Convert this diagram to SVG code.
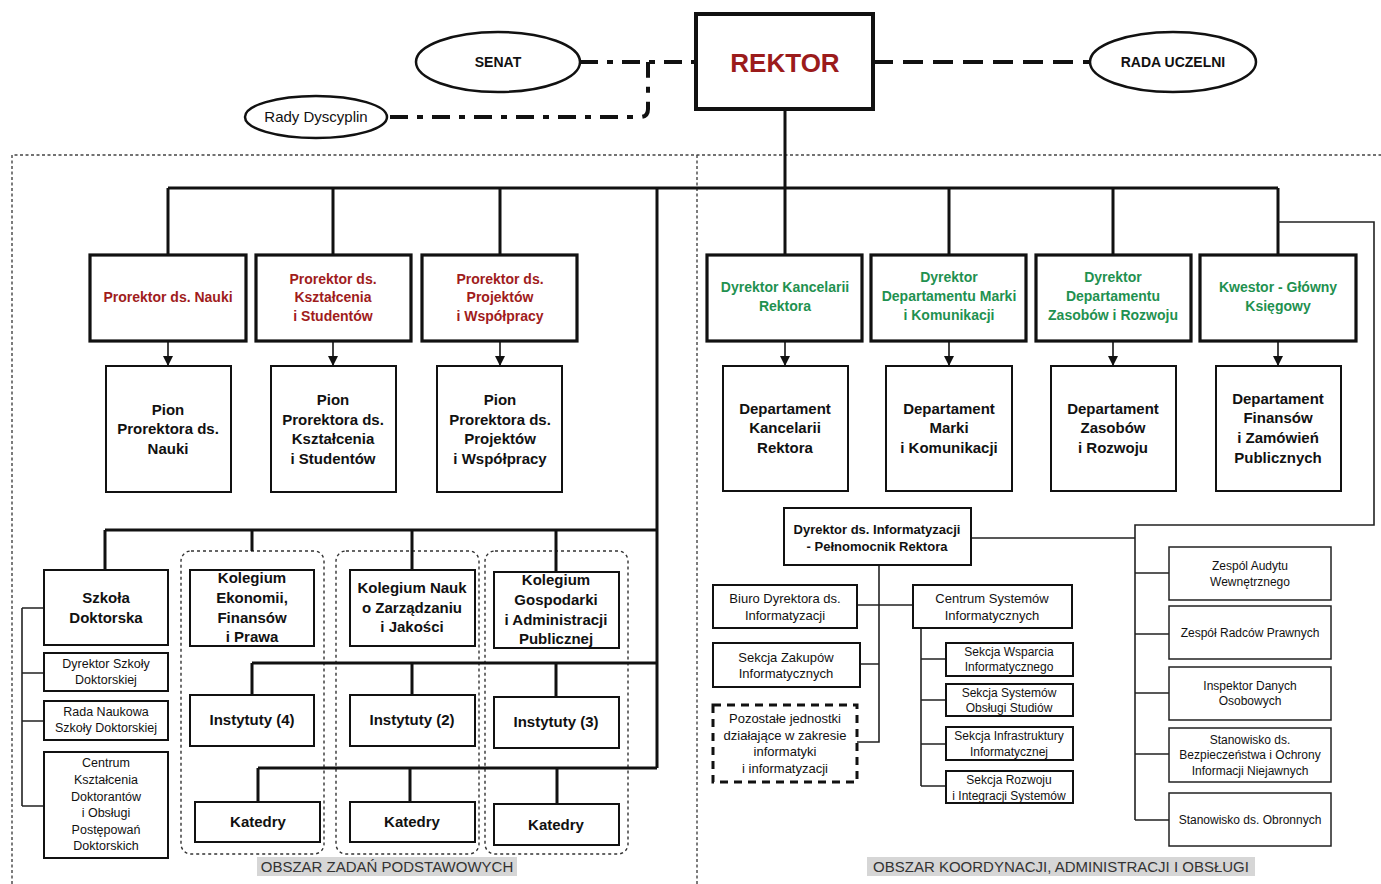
<svg xmlns="http://www.w3.org/2000/svg" width="1381" height="884" viewBox="0 0 1381 884">
<style>
text{font-family:"Liberation Sans",Arial,sans-serif;text-anchor:middle;fill:#111}
.b{font-weight:bold}
.red{fill:#a01c1c;font-weight:bold;font-size:14px}
.grn{fill:#1f9150;font-weight:bold;font-size:14px}
.thick{fill:#fff;stroke:#111;stroke-width:3.2}
.med{fill:#fff;stroke:#111;stroke-width:2}
.thin{fill:#fff;stroke:#222;stroke-width:1.5}
.ln{fill:none;stroke:#111;stroke-width:3}
.tl{fill:none;stroke:#222;stroke-width:1.6}
.area{fill:none;stroke:#444;stroke-width:1.4;stroke-dasharray:3,2.5}
.grp{fill:none;stroke:#333;stroke-width:1.4;stroke-dasharray:3,3}
.t15{font-size:15px;font-weight:bold}
.t14{font-size:15px;font-weight:bold}
.n13{font-size:13px}
.n12{font-size:12.5px}
.n11{font-size:12px}
.lab{font-size:15px;fill:#333}
</style>
<defs>
<marker id="arr" viewBox="0 0 10 10" refX="10" refY="5" markerWidth="10" markerHeight="10" markerUnits="userSpaceOnUse" orient="auto">
<path d="M0,0 L10,5 L0,10 z" fill="#111"/>
</marker>
</defs>
<rect width="1381" height="884" fill="#fff"/>

<g id="areas">
<path class="area" d="M12,884 V155 H1381"/>
<path class="area" d="M697,155 V884"/>
<rect x="257" y="857" width="260" height="19" fill="#d6d6d6"/>
<text class="lab" x="387" y="872">OBSZAR ZADAŃ PODSTAWOWYCH</text>
<rect x="867" y="857" width="388" height="19" fill="#d6d6d6"/>
<text class="lab" x="1061" y="872">OBSZAR KOORDYNACJI, ADMINISTRACJI I OBSŁUGI</text>
</g>

<g id="groups">
<rect class="grp" x="181" y="551" width="143" height="303" rx="10"/>
<rect class="grp" x="336" y="551" width="143" height="303" rx="10"/>
<rect class="grp" x="485" y="551" width="143" height="303" rx="10"/>
</g>

<g id="connectors">
<path d="M580,62 H696" fill="none" stroke="#111" stroke-width="4" stroke-dasharray="18,9,6,9"/>
<path d="M390,117 H640 Q648,117 648,109 V62" fill="none" stroke="#111" stroke-width="4" stroke-dasharray="18,9,6,9"/>
<path d="M873,62 H1090" fill="none" stroke="#111" stroke-width="4" stroke-dasharray="20,10"/>
<path class="ln" d="M785,109 V188 M168,188 H1278 M168,188 V255 M333,188 V255 M500,188 V255 M785,188 V255 M949,188 V255 M1113,188 V255 M1278,188 V255"/>
<path class="ln" d="M657,188 V768 M105,530 H657 M105,530 V570 M252,530 V551 M412,530 V570 M556,530 V572 M252,663 H657 M252,663 V695 M412,663 V695 M556,663 V697 M258,768 H657 M258,768 V802 M410,768 V802 M557,768 V804"/>
<g stroke="#111" stroke-width="1.6" marker-end="url(#arr)">
<path d="M168,341 V366"/><path d="M333,341 V366"/><path d="M500,341 V366"/>
<path d="M785,341 V366"/><path d="M949,341 V366"/><path d="M1113,341 V366"/><path d="M1278,341 V366"/>
</g>
<path class="tl" d="M1278,222 H1374 V525 H1135 V820 M971,538 H1135 M1135,573 H1169 M1135,634 H1169 M1135,693 H1169 M1135,754 H1169 M1135,820 H1169"/>
<path class="tl" d="M22,608 V806 M22,608 H44 M22,673 H44 M22,721 H44 M22,806 H44"/>
<path class="tl" d="M879,565 V742 H857 M857,605 H913 M860,664 H879 M921,628 V786 M921,659 H946 M921,700 H946 M921,744 H946 M921,786 H946"/>
</g>

<g id="rektor"><rect x="696" y="14" width="177" height="95" fill="#fff" stroke="#111" stroke-width="4"/><text x="785" y="72" class="b" style="font-size:26px;fill:#9b1b1b">REKTOR</text></g>
<g id="senat"><ellipse cx="498" cy="62" rx="82" ry="30" fill="#fff" stroke="#111" stroke-width="2.5"/><text x="498" y="67" class="b" style="font-size:14px">SENAT</text></g>
<g id="rada-uczelni"><ellipse cx="1173" cy="62" rx="83" ry="30" fill="#fff" stroke="#111" stroke-width="2.5"/><text x="1173" y="67" class="b" style="font-size:14px">RADA UCZELNI</text></g>
<g id="rady-dyscyplin"><ellipse cx="316" cy="117" rx="71" ry="21" fill="#fff" stroke="#111" stroke-width="2.5"/><text x="316" y="122" style="font-size:15px">Rady Dyscyplin</text></g>

<g id="prorektor-nauki"><rect class="thick" x="90" y="255" width="156" height="86"/><text class="red" x="168" y="302">Prorektor ds. Nauki</text></g>
<g id="prorektor-ksztalcenia"><rect class="thick" x="256" y="255" width="155" height="86"/><text class="red" x="333" y="284">Prorektor ds.</text><text class="red" x="333" y="302">Kształcenia</text><text class="red" x="333" y="321">i Studentów</text></g>
<g id="prorektor-projektow"><rect class="thick" x="422" y="255" width="155" height="86"/><text class="red" x="500" y="284">Prorektor ds.</text><text class="red" x="500" y="302">Projektów</text><text class="red" x="500" y="321">i Współpracy</text></g>

<g id="dyr-kancelarii"><rect class="thick" x="707" y="255" width="155" height="86"/><text class="grn" x="785" y="292">Dyrektor Kancelarii</text><text class="grn" x="785" y="311">Rektora</text></g>
<g id="dyr-marki"><rect class="thick" x="871" y="255" width="155" height="86"/><text class="grn" x="949" y="282">Dyrektor</text><text class="grn" x="949" y="301">Departamentu Marki</text><text class="grn" x="949" y="320">i Komunikacji</text></g>
<g id="dyr-zasobow"><rect class="thick" x="1036" y="255" width="155" height="86"/><text class="grn" x="1113" y="282">Dyrektor</text><text class="grn" x="1113" y="301">Departamentu</text><text class="grn" x="1113" y="320">Zasobów i Rozwoju</text></g>
<g id="kwestor"><rect class="thick" x="1200" y="255" width="156" height="86"/><text class="grn" x="1278" y="292">Kwestor - Główny</text><text class="grn" x="1278" y="311">Księgowy</text></g>

<g id="pion-nauki"><rect class="med" x="106" y="366" width="125" height="126"/><text class="t14" x="168" y="415">Pion</text><text class="t14" x="168" y="434">Prorektora ds.</text><text class="t14" x="168" y="454">Nauki</text></g>
<g id="pion-ksztalcenia"><rect class="med" x="271" y="366" width="125" height="126"/><text class="t14" x="333" y="405">Pion</text><text class="t14" x="333" y="425">Prorektora ds.</text><text class="t14" x="333" y="444">Kształcenia</text><text class="t14" x="333" y="464">i Studentów</text></g>
<g id="pion-projektow"><rect class="med" x="437" y="366" width="125" height="126"/><text class="t14" x="500" y="405">Pion</text><text class="t14" x="500" y="425">Prorektora ds.</text><text class="t14" x="500" y="444">Projektów</text><text class="t14" x="500" y="464">i Współpracy</text></g>

<g id="dep-kancelarii"><rect class="med" x="723" y="366" width="125" height="125"/><text class="t14" x="785" y="414">Departament</text><text class="t14" x="785" y="433">Kancelarii</text><text class="t14" x="785" y="453">Rektora</text></g>
<g id="dep-marki"><rect class="med" x="886" y="366" width="126" height="125"/><text class="t14" x="949" y="414">Departament</text><text class="t14" x="949" y="433">Marki</text><text class="t14" x="949" y="453">i Komunikacji</text></g>
<g id="dep-zasobow"><rect class="med" x="1051" y="366" width="125" height="125"/><text class="t14" x="1113" y="414">Departament</text><text class="t14" x="1113" y="433">Zasobów</text><text class="t14" x="1113" y="453">i Rozwoju</text></g>
<g id="dep-finansow"><rect class="med" x="1216" y="366" width="125" height="125"/><text class="t14" x="1278" y="404">Departament</text><text class="t14" x="1278" y="423">Finansów</text><text class="t14" x="1278" y="443">i Zamówień</text><text class="t14" x="1278" y="463">Publicznych</text></g>

<g id="szkola-doktorska"><rect class="med" x="44" y="570" width="124" height="75"/><text class="t15" x="106" y="603">Szkoła</text><text class="t15" x="106" y="623">Doktorska</text></g>
<g id="dyr-szkoly"><rect class="med" x="44" y="653" width="124" height="38"/><text class="n12" x="106" y="668">Dyrektor Szkoły</text><text class="n12" x="106" y="684">Doktorskiej</text></g>
<g id="rada-naukowa"><rect class="med" x="44" y="701" width="124" height="39"/><text class="n12" x="106" y="716">Rada Naukowa</text><text class="n12" x="106" y="732">Szkoły Doktorskiej</text></g>
<g id="centrum-ksztalcenia"><rect class="med" x="44" y="752" width="124" height="106"/><text class="n12" x="106" y="767">Centrum</text><text class="n12" x="106" y="784">Kształcenia</text><text class="n12" x="106" y="801">Doktorantów</text><text class="n12" x="106" y="817">i Obsługi</text><text class="n12" x="106" y="834">Postępowań</text><text class="n12" x="106" y="850">Doktorskich</text></g>

<g id="kolegium-ekonomii"><rect class="med" x="190" y="570" width="124" height="76"/><text class="t15" x="252" y="583">Kolegium</text><text class="t15" x="252" y="603">Ekonomii,</text><text class="t15" x="252" y="623">Finansów</text><text class="t15" x="252" y="642">i Prawa</text></g>
<g id="instytuty-4"><rect class="med" x="190" y="695" width="124" height="51"/><text class="t15" x="252" y="725">Instytuty (4)</text></g>
<g id="katedry-1"><rect class="med" x="195" y="802" width="125" height="40"/><text class="t15" x="258" y="827">Katedry</text></g>

<g id="kolegium-nauk"><rect class="med" x="350" y="570" width="125" height="76"/><text class="t15" x="412" y="593">Kolegium Nauk</text><text class="t15" x="412" y="613">o Zarządzaniu</text><text class="t15" x="412" y="632">i Jakości</text></g>
<g id="instytuty-2"><rect class="med" x="350" y="695" width="125" height="51"/><text class="t15" x="412" y="725">Instytuty (2)</text></g>
<g id="katedry-2"><rect class="med" x="350" y="802" width="125" height="40"/><text class="t15" x="412" y="827">Katedry</text></g>

<g id="kolegium-gospodarki"><rect class="med" x="494" y="572" width="125" height="76"/><text class="t15" x="556" y="585">Kolegium</text><text class="t15" x="556" y="605">Gospodarki</text><text class="t15" x="556" y="625">i Administracji</text><text class="t15" x="556" y="644">Publicznej</text></g>
<g id="instytuty-3"><rect class="med" x="494" y="697" width="125" height="51"/><text class="t15" x="556" y="727">Instytuty (3)</text></g>
<g id="katedry-3"><rect class="med" x="494" y="804" width="125" height="41"/><text class="t15" x="556" y="830">Katedry</text></g>

<g id="dyr-informatyzacji"><rect class="med" x="784" y="508" width="187" height="57"/><text class="b" style="font-size:13px" x="877" y="534">Dyrektor ds. Informatyzacji</text><text class="b" style="font-size:13px" x="877" y="551"> -  Pełnomocnik Rektora</text></g>
<g id="biuro-dyrektora"><rect class="med" x="713" y="585" width="144" height="43"/><text class="n13" x="785" y="603">Biuro Dyrektora ds.</text><text class="n13" x="785" y="620">Informatyzacji</text></g>
<g id="sekcja-zakupow"><rect class="med" x="713" y="643" width="147" height="44"/><text class="n13" x="786" y="662">Sekcja Zakupów</text><text class="n13" x="786" y="678">Informatycznych</text></g>
<g id="pozostale"><rect x="713" y="705" width="144" height="77" fill="#fff" stroke="#111" stroke-width="3" stroke-dasharray="8,6"/><text class="n13" x="785" y="723">Pozostałe jednostki</text><text class="n13" x="785" y="740">działające w zakresie</text><text class="n13" x="785" y="756">informatyki</text><text class="n13" x="785" y="773">i informatyzacji</text></g>
<g id="centrum-systemow"><rect class="med" x="913" y="585" width="159" height="43"/><text class="n13" x="992" y="603">Centrum Systemów</text><text class="n13" x="992" y="620">Informatycznych</text></g>
<g id="sekcja-wsparcia"><rect class="med" x="946" y="643" width="127" height="33"/><text class="n11" x="1009" y="656">Sekcja Wsparcia</text><text class="n11" x="1009" y="671">Informatycznego</text></g>
<g id="sekcja-systemow"><rect class="med" x="946" y="684" width="127" height="32"/><text class="n11" x="1009" y="697">Sekcja Systemów</text><text class="n11" x="1009" y="712">Obsługi Studiów</text></g>
<g id="sekcja-infrastruktury"><rect class="med" x="946" y="727" width="127" height="33"/><text class="n11" x="1009" y="740">Sekcja Infrastruktury</text><text class="n11" x="1009" y="756">Informatycznej</text></g>
<g id="sekcja-rozwoju"><rect class="med" x="946" y="771" width="127" height="32"/><text class="n11" x="1009" y="784">Sekcja Rozwoju</text><text class="n11" x="1009" y="800">i Integracji Systemów</text></g>

<g id="zespol-audytu"><rect class="thin" x="1169" y="547" width="162" height="53"/><text class="n11" x="1250" y="570">Zespól Audytu</text><text class="n11" x="1250" y="586">Wewnętrznego</text></g>
<g id="zespol-radcow"><rect class="thin" x="1169" y="606" width="162" height="53"/><text class="n11" x="1250" y="637">Zespół Radców Prawnych</text></g>
<g id="inspektor"><rect class="thin" x="1169" y="667" width="162" height="53"/><text class="n11" x="1250" y="690">Inspektor Danych</text><text class="n11" x="1250" y="705">Osobowych</text></g>
<g id="stanowisko-bezp"><rect class="thin" x="1169" y="728" width="162" height="54"/><text class="n11" x="1250" y="744">Stanowisko ds.</text><text class="n11" x="1250" y="759">Bezpieczeństwa i Ochrony</text><text class="n11" x="1250" y="775">Informacji Niejawnych</text></g>
<g id="stanowisko-obronnych"><rect class="thin" x="1169" y="793" width="162" height="53"/><text class="n11" x="1250" y="824">Stanowisko ds. Obronnych</text></g>
</svg>
